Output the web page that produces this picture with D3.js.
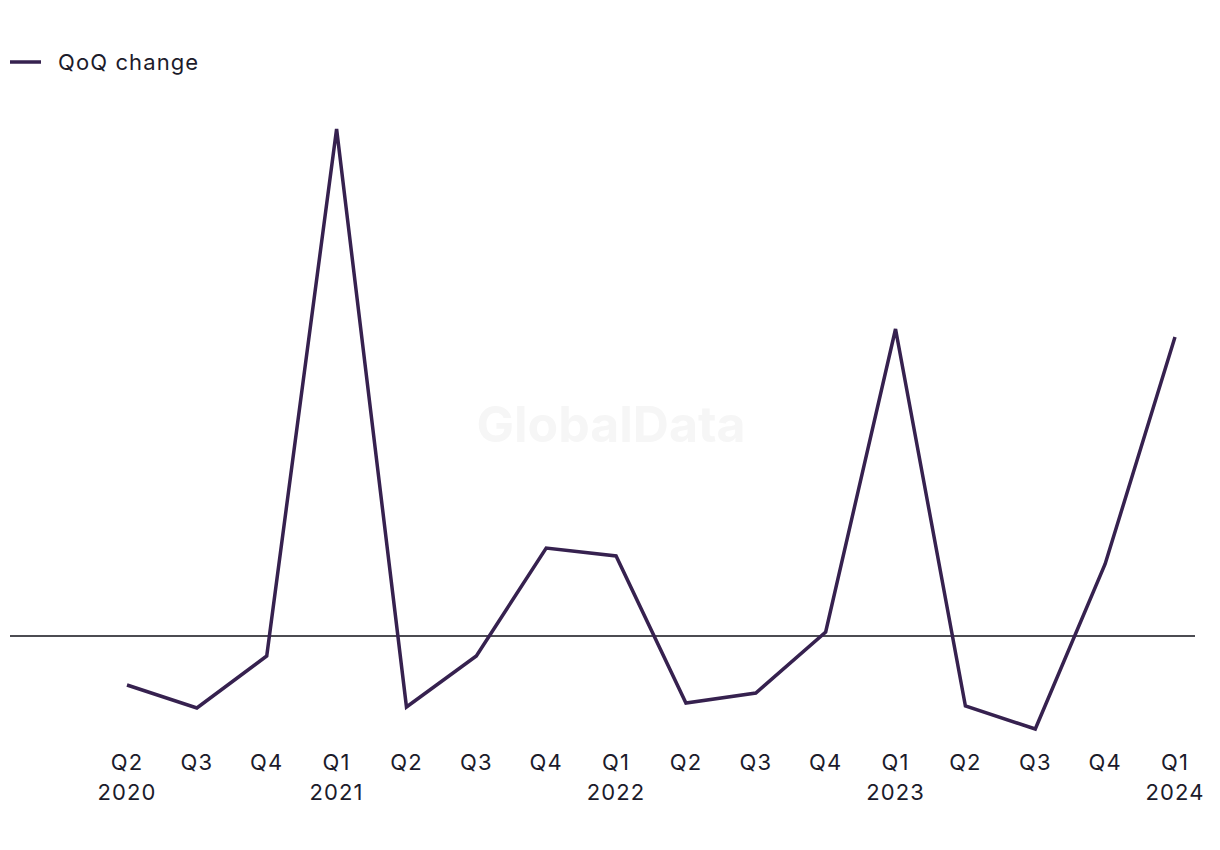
<!DOCTYPE html>
<html><head><meta charset="utf-8">
<script src="https://cdn.jsdelivr.net/npm/d3@7"></script>
<style>body{margin:0;background:#fff;}svg{display:block;font-family:Inter,"Liberation Sans",sans-serif;}</style>
</head><body>
<svg id="chart" width="1220" height="850"></svg>
<script>
const quarters = ["Q2","Q3","Q4","Q1","Q2","Q3","Q4","Q1","Q2","Q3","Q4","Q1","Q2","Q3","Q4","Q1"];
const years = ["2020","","","2021","","","","2022","","","","2023","","","","2024"];
const categories = quarters.map((q,i)=>q+"|"+years[i]+"|"+i);
const qoqChange = [-4.9,-7.2,-2.0,50.7,-7.1,-2.0,8.8,8.0,-6.7,-5.7,0.4,30.7,-7.0,-9.3,7.2,29.9];
const seriesName = "QoQ change";

const svg = d3.select("#chart");
const lineColor = "#36214f";
const textColor = "#1c1b2b";

const x = d3.scalePoint().domain(categories).range([127,1175]);
const y = d3.scaleLinear().domain([-10,50]).range([736,136]);

// watermark
svg.append("text").attr("x",611).attr("y",442).attr("text-anchor","middle")
  .attr("font-size",50).attr("font-weight","bold").attr("fill","#f6f6f6").text("GlobalData");

// zero line
svg.append("line").attr("x1",10).attr("x2",1195).attr("y1",y(0)).attr("y2",y(0))
  .attr("stroke","#111118").attr("stroke-width",1.6);

// line
const line = d3.line().x((d,i)=>x(categories[i])).y(d=>y(d));
svg.append("path").datum(qoqChange).attr("d",line).attr("fill","none")
  .attr("stroke",lineColor).attr("stroke-width",3.5).attr("stroke-linejoin","miter");

// x labels
const g = svg.append("g").attr("fill",textColor).attr("font-size",22).attr("letter-spacing",1.1);
categories.forEach((c,i)=>{
  g.append("text").attr("x",x(c)).attr("y",770).attr("text-anchor","middle").text(quarters[i]);
  if(years[i]) g.append("text").attr("x",x(c)).attr("y",800).attr("text-anchor","middle").text(years[i]);
});

// legend
svg.append("line").attr("x1",10).attr("x2",41).attr("y1",62).attr("y2",62)
  .attr("stroke",lineColor).attr("stroke-width",3.5);
svg.append("text").attr("x",58).attr("y",70).attr("font-size",22).attr("letter-spacing",1.1)
  .attr("fill",textColor).text(seriesName);
</script>
</body></html>
